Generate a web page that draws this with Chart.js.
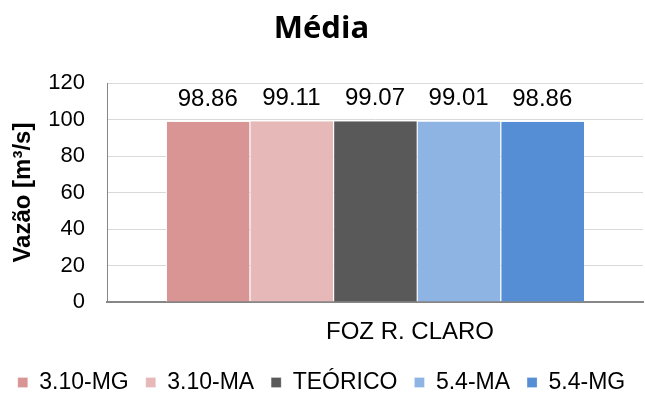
<!DOCTYPE html>
<html>
<head>
<meta charset="utf-8">
<script src="https://cdn.jsdelivr.net/npm/chart.js@4"></script>
<style>
  html, body { margin: 0; padding: 0; background: #fff; }
  #wrap { width: 645px; height: 394px; }
</style>
</head>
<body>
<div id="wrap"><canvas id="chart" width="645" height="394"></canvas></div>
<script>
const categories = ["FOZ R. CLARO"];
const seriesNames = ["3.10-MG", "3.10-MA", "TEÓRICO", "5.4-MA", "5.4-MG"];
const seriesValues = [[98.86], [99.11], [99.07], [99.01], [98.86]];
const seriesColors = ["#D99594", "#E6B9B8", "#595959", "#8EB4E3", "#558ED5"];
const yTicks = [0, 20, 40, 60, 80, 100, 120];

const arial = '"Liberation Sans", Arial, sans-serif';

// numbers over the bars
const valueLabels = {
  id: 'valueLabels',
  afterDatasetsDraw(chart) {
    const ctx = chart.ctx;
    ctx.save();
    ctx.font = '24px ' + arial;
    ctx.fillStyle = '#000';
    ctx.textAlign = 'center';
    ctx.textBaseline = 'alphabetic';
    chart.data.datasets.forEach((ds, i) => {
      chart.getDatasetMeta(i).data.forEach((bar, j) => {
        ctx.fillText(ds.data[j].toFixed(2), bar.x, bar.y - 16);
      });
    });
    ctx.restore();
  }
};

new Chart(document.getElementById('chart'), {
  type: 'bar',
  data: {
    labels: categories,
    datasets: seriesNames.map((name, i) => ({
      label: name,
      data: seriesValues[i],
      backgroundColor: seriesColors[i],
      borderColor: '#fff',
      borderWidth: { left: 1, right: 0, top: 0, bottom: 0 },
      categoryPercentage: 0.78,
      barPercentage: 1
    }))
  },
  options: {
    responsive: false,
    animation: false,
    layout: { padding: { left: 0, right: 2, top: 0, bottom: -10 } },
    plugins: {
      tooltip: { enabled: false },
      title: {
        display: true,
        text: 'Média',
        color: '#000',
        font: { family: '"Open Sans", sans-serif', size: 31, weight: 'bold' },
        padding: { top: 11, bottom: 35 }
      },
      legend: {
        position: 'bottom',
        labels: {
          color: '#000',
          font: { family: arial, size: 23 },
          boxWidth: 10,
          boxHeight: 10,
          padding: 17
        }
      }
    },
    scales: {
      x: {
        afterFit: s => { s.height = 52; },
        grid: { display: false },
        border: { color: '#868686', width: 2 },
        ticks: {
          color: '#000',
          font: { family: arial, size: 24 },
          labelOffset: 35,
          padding: 8
        }
      },
      y: {
        min: 0,
        max: 120,
        afterBuildTicks: s => { s.ticks = yTicks.map(v => ({ value: v })); },
        afterFit: s => { s.width = 107; },
        grid: { color: '#D9D9D9', drawTicks: false },
        border: { color: '#868686', width: 1 },
        ticks: {
          color: '#000',
          font: { family: arial, size: 22 },
          padding: 22
        },
        title: {
          display: true,
          text: 'Vazão [m³/s]',
          color: '#000',
          font: { family: arial, size: 24, weight: 'bold' },
          padding: { top: 9, bottom: 0 }
        }
      }
    }
  },
  plugins: [valueLabels]
});
</script>
</body>
</html>
